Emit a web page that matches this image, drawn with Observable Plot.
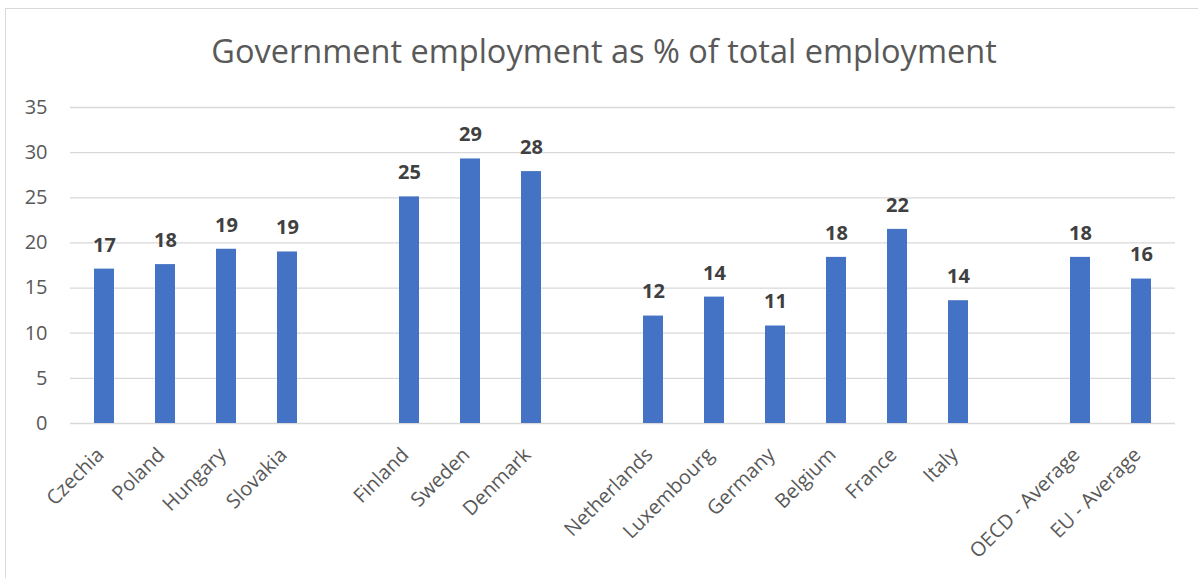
<!DOCTYPE html>
<html>
<head>
<meta charset="utf-8">
<script src="https://cdn.jsdelivr.net/npm/d3@7"></script>
<script src="https://cdn.jsdelivr.net/npm/@observablehq/plot@0.6"></script>
<style>
  html, body { margin: 0; padding: 0; background: #fff; }
  #wrap { position: relative; width: 1198px; height: 578px; overflow: hidden; font-family: "Open Sans", sans-serif; }
  #frame { position: absolute; left: 5px; top: 8px; width: 1250px; height: 650px; border: 1.5px solid #d9d9d9; box-sizing: border-box; }
  #title { position: absolute; left: 0; top: 26px; width: 1198px; text-align: center; font-size: 32.5px; color: #595959; line-height: 50px; padding-left: 10px; box-sizing: border-box; }
  #chart { position: absolute; left: 0; top: 90px; }
</style>
</head>
<body>
<div id="wrap">
  <div id="frame"></div>
  <div id="title">Government employment as % of total employment</div>
  <div id="chart"></div>
</div>
<script>
const categories = ["Czechia", "Poland", "Hungary", "Slovakia", " ", "Finland", "Sweden", "Denmark", "  ", "Netherlands", "Luxembourg", "Germany", "Belgium", "France", "Italy", "   ", "OECD - Average", "EU - Average"];
const countries = ["Czechia", "Poland", "Hungary", "Slovakia", "Finland", "Sweden", "Denmark", "Netherlands", "Luxembourg", "Germany", "Belgium", "France", "Italy", "OECD - Average", "EU - Average"];
const values = [17.1, 17.6, 19.3, 19.0, 25.1, 29.3, 27.9, 11.9, 14.0, 10.8, 18.4, 21.5, 13.6, 18.4, 16.0];
const yTicks = [0, 5, 10, 15, 20, 25, 30, 35];

const data = countries.map((c, i) => ({country: c, value: values[i]}));

const chart = Plot.plot({
  width: 1198,
  height: 488,
  marginLeft: 70,
  marginRight: 23,
  marginTop: 17,
  marginBottom: 155,
  style: {fontFamily: "'Open Sans', sans-serif", background: "transparent"},
  x: {domain: categories, paddingInner: 0.68, paddingOuter: 0.34, label: null},
  y: {domain: [0, 35], label: null},
  marks: [
    Plot.ruleY(yTicks, {stroke: "#d9d9d9", strokeWidth: 1.3}),
    Plot.barY(data, {x: "country", y: "value", fill: "#4472c4"}),
    Plot.text(data, {x: "country", y: "value", text: d => String(Math.round(d.value)), dy: -24, fontWeight: "bold", fontSize: 20, fill: "#404040", lineAnchor: "middle"}),
    Plot.axisY({ticks: yTicks, tickSize: 0, tickPadding: 23, fontSize: 20, fill: "#595959", tickFormat: d => String(d)}),
    Plot.axisX({tickSize: 0, tickPadding: 28, dx: -4, tickRotate: -45, fontSize: 20, fill: "#595959", tickFormat: d => d.trim()})
  ]
});
document.getElementById("chart").appendChild(chart);
</script>
</body>
</html>
